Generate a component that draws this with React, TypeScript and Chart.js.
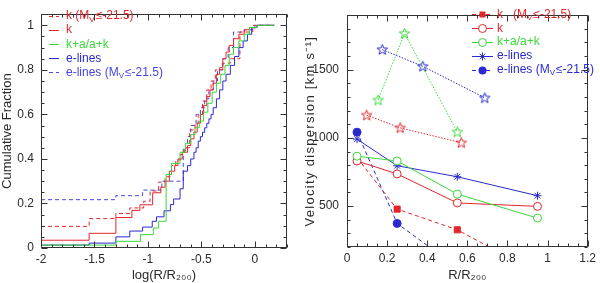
import React, { useEffect, useRef } from 'react';
import { Chart, registerables } from 'chart.js';
Chart.register(...registerables);

const FONT = "'Liberation Sans', Arial, sans-serif";
const RED = '#e3262c';
const GREEN = '#3ad83a';
const BLUE = '#2a2ad0';
const BLUE_D = '#4646e6';
const INK = '#2a2a2a';

// ---------- Left panel: cumulative fractions (level starts at x) ----------
const kBrightX = [-2, -1.55, -1.3, -1.17, -1.04, -0.98, -0.9, -0.84, -0.78, -0.74, -0.7, -0.66, -0.61, -0.56, -0.53, -0.49, -0.45, -0.41, -0.37, -0.3, -0.23, -0.14, -0.02, 0.18];
const kBrightY = [0.097, 0.132, 0.155, 0.18, 0.21, 0.256, 0.296, 0.32, 0.37, 0.395, 0.42, 0.45, 0.53, 0.56, 0.6, 0.66, 0.71, 0.75, 0.8, 0.83, 0.85, 0.97, 1, 1];

const kAllX = [-2, -1.55, -1.3, -1.15, -1.075, -0.956, -0.88, -0.84, -0.8, -0.75, -0.72, -0.68, -0.63, -0.6, -0.57, -0.54, -0.51, -0.48, -0.45, -0.42, -0.39, -0.36, -0.33, -0.3, -0.27, -0.24, -0.2, -0.15, -0.1, -0.05, 0.02, 0.18];
const kAllY = [0.035, 0.066, 0.137, 0.169, 0.194, 0.248, 0.273, 0.3, 0.345, 0.37, 0.4, 0.43, 0.46, 0.49, 0.52, 0.56, 0.6, 0.64, 0.68, 0.71, 0.74, 0.78, 0.81, 0.85, 0.88, 0.91, 0.94, 0.96, 0.98, 0.99, 1, 1];

const kaX = [-2, -1.3, -1.07, -0.95, -0.9, -0.83, -0.78, -0.7, -0.65, -0.6, -0.56, -0.52, -0.48, -0.44, -0.4, -0.36, -0.32, -0.28, -0.24, -0.2, -0.15, -0.1, -0.05, 0.02, 0.18];
const kaY = [0.013, 0.03, 0.06, 0.09, 0.12, 0.33, 0.38, 0.43, 0.47, 0.51, 0.54, 0.57, 0.61, 0.65, 0.7, 0.74, 0.78, 0.82, 0.87, 0.9, 0.93, 0.96, 0.99, 1, 1];

const eAllX = [-2, -1.55, -1.3, -1.17, -1.05, -0.96, -0.92, -0.85, -0.79, -0.76, -0.7, -0.67, -0.63, -0.6, -0.57, -0.55, -0.53, -0.51, -0.49, -0.47, -0.45, -0.43, -0.41, -0.39, -0.36, -0.33, -0.3, -0.27, -0.23, -0.19, -0.15, -0.11, -0.07, -0.03, 0.02, 0.18];
const eAllY = [0.013, 0.022, 0.05, 0.076, 0.094, 0.12, 0.14, 0.167, 0.195, 0.22, 0.266, 0.345, 0.37, 0.4, 0.43, 0.45, 0.48, 0.5, 0.52, 0.54, 0.56, 0.58, 0.6, 0.63, 0.67, 0.71, 0.75, 0.78, 0.82, 0.86, 0.9, 0.93, 0.96, 0.99, 1, 1];

const eBrightX = [-2, -1.3, -1.05, -0.87, -0.67, -0.63, -0.6, -0.55, -0.51, -0.47, -0.43, -0.39, -0.35, -0.3, -0.25, -0.2, -0.1, 0, 0.18];
const eBrightY = [0.217, 0.235, 0.26, 0.3, 0.45, 0.5, 0.55, 0.6, 0.63, 0.67, 0.71, 0.75, 0.8, 0.85, 0.9, 0.97, 0.98, 1, 1];

const leftXTicks = [-2, -1.5, -1, -0.5, 0];
const leftYTicks = [0, 0.2, 0.4, 0.6, 0.8, 1];

// ---------- Right panel: velocity dispersion ----------
const binR = [0.05, 0.25, 0.55, 0.95];
const kBrightSigma = [855, 478, 326, 10];
const kSigma = [831, 736, 523, 498];
const kaSigma = [866, 831, 588, 412];
const eSigma = [991, 796, 715, 576];
const eBrightR = [0.05, 0.25, 0.55];
const eBrightSigma = [1042, 373, 50];

const kStarR = [0.098, 0.265, 0.57];
const kStarSigma = [1167, 1074, 965];
const kaStarR = [0.155, 0.287, 0.55];
const kaStarSigma = [1278, 1766, 1044];
const eStarR = [0.176, 0.378, 0.687];
const eStarSigma = [1648, 1525, 1294];

const rightXTicks = [0, 0.2, 0.4, 0.6, 0.8, 1, 1.2];
const rightYTicks = [500, 1000, 1500];

const leftLegend = [
  { label: 'k (M_{V}≤-21.5)', color: RED, dash: [4, 3], marker: '' },
  { label: 'k', color: RED, dash: [], marker: '' },
  { label: 'k+a/a+k', color: GREEN, dash: [], marker: '' },
  { label: 'e-lines', color: BLUE, dash: [], marker: '' },
  { label: 'e-lines (M_{V}≤-21.5)', color: BLUE_D, dash: [4, 3], marker: '' },
];
const rightLegend = [
  { label: 'k   (M_{V}≤-21.5)', color: RED, dash: [4, 3], marker: 'square' },
  { label: 'k', color: RED, dash: [], marker: 'circle' },
  { label: 'k+a/a+k', color: GREEN, dash: [], marker: 'circle' },
  { label: 'e-lines', color: BLUE, dash: [], marker: 'asterisk' },
  { label: 'e-lines (M_{V}≤-21.5)', color: BLUE, dash: [4, 3], marker: 'dot' },
];

function zip(xs: number[], ys: number[]) {
  return xs.map((x, i) => ({ x, y: ys[i] }));
}

function makeStar(color: string): HTMLCanvasElement {
  const c = document.createElement('canvas');
  c.width = 13; c.height = 13;
  const g = c.getContext('2d')!;
  g.strokeStyle = color; g.lineWidth = 1;
  g.beginPath();
  for (let i = 0; i < 10; i++) {
    const r = i % 2 === 0 ? 5.5 : 2.3;
    const a = -Math.PI / 2 + (i * Math.PI) / 5;
    const px = 6.5 + r * Math.cos(a), py = 6.8 + r * Math.sin(a);
    if (i === 0) g.moveTo(px, py); else g.lineTo(px, py);
  }
  g.closePath(); g.stroke();
  return c;
}

function drawMarker(ctx: CanvasRenderingContext2D, kind: string, x: number, y: number, color: string) {
  ctx.save();
  ctx.setLineDash([]);
  ctx.strokeStyle = color; ctx.fillStyle = color; ctx.lineWidth = 1;
  if (kind === 'square') ctx.fillRect(x - 3, y - 3, 6, 6);
  else if (kind === 'dot') { ctx.beginPath(); ctx.arc(x, y, 4, 0, Math.PI * 2); ctx.fill(); }
  else if (kind === 'circle') { ctx.beginPath(); ctx.arc(x, y, 4, 0, Math.PI * 2); ctx.fillStyle = '#fff'; ctx.fill(); ctx.stroke(); }
  else if (kind === 'asterisk') {
    ctx.beginPath();
    for (let k = 0; k < 4; k++) {
      const a = (k * Math.PI) / 4;
      ctx.moveTo(x - 4 * Math.cos(a), y - 4 * Math.sin(a));
      ctx.lineTo(x + 4 * Math.cos(a), y + 4 * Math.sin(a));
    }
    ctx.stroke();
  }
  ctx.restore();
}

function drawRich(ctx: CanvasRenderingContext2D, text: string, x: number, y: number, size: number, color: string) {
  const parts = text.split(/(_\{[^}]*\})/);
  let cx = x;
  ctx.fillStyle = color; ctx.textBaseline = 'middle'; ctx.textAlign = 'left';
  for (const p of parts) {
    if (!p) continue;
    if (p.startsWith('_{')) {
      const t = p.slice(2, -1);
      ctx.font = `${Math.round(size * 0.7)}px ${FONT}`;
      ctx.fillText(t, cx, y + size * 0.28);
      cx += ctx.measureText(t).width + 1;
    } else {
      ctx.font = `${size}px ${FONT}`;
      ctx.fillText(p, cx, y);
      cx += ctx.measureText(p).width;
    }
  }
}

const frameTicks = {
  id: 'frameTicks',
  afterDatasetsDraw(chart: any, _a: any, opts: any) {
    const { ctx, chartArea: a } = chart;
    const xs = chart.scales.x, ys = chart.scales.y;
    ctx.save();
    ctx.setLineDash([]);
    ctx.strokeStyle = opts.color; ctx.lineWidth = 1;
    const L = Math.round(a.left) + 0.5, R = Math.round(a.right) - 0.5;
    const T = Math.round(a.top) + 0.5, B = Math.round(a.bottom) - 0.5;
    ctx.strokeRect(L, T, R - L, B - T);
    ctx.beginPath();
    const isMajor = (v: number, arr: number[]) => arr.some((m) => Math.abs(m - v) < 1e-6);
    const n0 = Math.ceil(xs.min / opts.xMinor - 1e-6), n1 = Math.floor(xs.max / opts.xMinor + 1e-6);
    for (let n = n0; n <= n1; n++) {
      const v = n * opts.xMinor;
      const len = isMajor(v, opts.xMajor) ? 6 : 3;
      const px = Math.round(xs.getPixelForValue(v)) + 0.5;
      ctx.moveTo(px, B); ctx.lineTo(px, B - len);
      ctx.moveTo(px, T); ctx.lineTo(px, T + len);
    }
    const m0 = Math.ceil(ys.min / opts.yMinor - 1e-6), m1 = Math.floor(ys.max / opts.yMinor + 1e-6);
    for (let n = m0; n <= m1; n++) {
      const v = n * opts.yMinor;
      const len = isMajor(v, opts.yMajor) ? 6 : 3;
      const py = Math.round(ys.getPixelForValue(v)) + 0.5;
      ctx.moveTo(L, py); ctx.lineTo(L + len, py);
      ctx.moveTo(R, py); ctx.lineTo(R - len, py);
    }
    ctx.stroke();
    ctx.restore();
  },
};

const panelLegend = {
  id: 'panelLegend',
  afterDraw(chart: any, _a: any, opts: any) {
    const { ctx } = chart;
    ctx.save();
    opts.items.forEach((it: any, i: number) => {
      const y = opts.y0 + i * opts.dy;
      ctx.strokeStyle = it.color; ctx.lineWidth = 1;
      ctx.setLineDash(it.dash);
      ctx.beginPath();
      ctx.moveTo(opts.x0, Math.round(y) + 0.5); ctx.lineTo(opts.x1, Math.round(y) + 0.5);
      ctx.stroke();
      ctx.setLineDash([]);
      if (it.marker) drawMarker(ctx, it.marker, (opts.x0 + opts.x1) / 2, Math.round(y) + 0.5, it.color);
      drawRich(ctx, it.label, opts.tx, y, opts.size, it.color);
    });
    if (opts.yTitle) {
      const a = chart.chartArea;
      ctx.translate(opts.yTitle.x, (a.top + a.bottom) / 2);
      ctx.rotate(-Math.PI / 2);
      ctx.font = `${opts.yTitle.size}px ${FONT}`;
      (ctx as any).letterSpacing = opts.yTitle.spacing;
      ctx.fillStyle = INK; ctx.textAlign = 'center'; ctx.textBaseline = 'middle';
      ctx.fillText(opts.yTitle.text, 0, 0);
    }
    ctx.restore();
  },
};

const fmt = (v: any) => String(+Number(v).toFixed(2));

function axis(min: number, max: number, ticks: number[], fitSize: number, isX: boolean, title: string, tickPad: number, titlePad: any, tickSize: number, titleSize: number, showTitle = true) {
  return {
    type: 'linear',
    min, max,
    afterBuildTicks: (s: any) => { s.ticks = ticks.map((v) => ({ value: v })); },
    afterFit: (s: any) => { if (isX) s.height = fitSize; else s.width = fitSize; },
    grid: { display: false, drawTicks: false },
    border: { display: false },
    ticks: { font: { family: FONT, size: tickSize }, color: INK, padding: tickPad, maxRotation: 0, autoSkip: false, callback: fmt },
    title: { display: showTitle, text: title, font: { family: FONT, size: titleSize }, color: INK, padding: titlePad },
  };
}

function LeftChart() {
  const ref = useRef<HTMLCanvasElement>(null);
  useEffect(() => {
    const line = (xs: number[], ys: number[], color: string, dash: number[]) => ({
      data: zip(xs, ys), borderColor: color, borderDash: dash, borderWidth: 1,
      stepped: 'before', pointRadius: 0, fill: false,
    });
    const chart = new Chart(ref.current!, {
      type: 'line',
      data: {
        datasets: [
          line(kaX, kaY, GREEN, []),
          line(eAllX, eAllY, BLUE, []),
          line(kAllX, kAllY, RED, []),
          line(kBrightX, kBrightY, RED, [4, 3]),
          line(eBrightX, eBrightY, BLUE_D, [4, 3]),
        ] as any,
      },
      options: {
        animation: false, responsive: false, devicePixelRatio: 1,
        layout: { padding: { left: 0, top: 2, right: 13, bottom: 0 } },
        plugins: {
          legend: { display: false }, tooltip: { enabled: false },
          frameTicks: { color: '#333', xMinor: 0.1, yMinor: 0.05, xMajor: leftXTicks, yMajor: leftYTicks },
          panelLegend: { items: leftLegend, x0: 49, x1: 59, tx: 66, y0: 16, dy: 14.1, size: 12 },
        } as any,
        scales: {
          x: axis(-2, 0.3, leftXTicks, 35, true, 'log(R/R₂₀₀)', 4, { top: 0, bottom: 0 }, 12, 13),
          y: axis(0, 1.05, leftYTicks, 41, false, 'Cumulative Fraction', 7, { top: 0, bottom: 0 }, 12, 13),
        } as any,
      },
      plugins: [frameTicks, panelLegend],
    });
    return () => chart.destroy();
  }, []);
  return <canvas ref={ref} width={300} height={283} style={{ display: 'block', width: 300, height: 283 }} />;
}

function RightChart() {
  const ref = useRef<HTMLCanvasElement>(null);
  useEffect(() => {
    const series = (xs: number[], ys: number[], color: string, dash: number[], style: any, radius: number, bg: string) => ({
      data: zip(xs, ys), borderColor: color, borderDash: dash, borderWidth: 1, fill: false,
      pointStyle: style, pointRadius: radius, pointBorderColor: color, pointBackgroundColor: bg, pointBorderWidth: 1,
    });
    const chart = new Chart(ref.current!, {
      type: 'line',
      data: {
        datasets: [
          series(kStarR, kStarSigma, RED, [1.5, 1.5], makeStar(RED), 6, RED),
          series(kaStarR, kaStarSigma, GREEN, [1.5, 1.5], makeStar(GREEN), 6, GREEN),
          series(eStarR, eStarSigma, BLUE, [1.5, 1.5], makeStar(BLUE), 6, BLUE),
          series(binR, kaSigma, GREEN, [], 'circle', 4, '#fff'),
          series(binR, kSigma, RED, [], 'circle', 4, '#fff'),
          series(binR, eSigma, BLUE, [], 'star', 4, BLUE),
          series(binR, kBrightSigma, RED, [4, 3], 'rect', 4.3, RED),
          series(eBrightR, eBrightSigma, BLUE, [4, 3], 'circle', 4, BLUE),
        ] as any,
      },
      options: {
        animation: false, responsive: false, devicePixelRatio: 1,
        layout: { padding: { left: 0, top: 2, right: 8, bottom: 0 } },
        plugins: {
          legend: { display: false }, tooltip: { enabled: false },
          frameTicks: { color: '#333', xMinor: 0.05, yMinor: 100, xMajor: rightXTicks, yMajor: rightYTicks },
          panelLegend: {
            items: rightLegend, x0: 172, x1: 193, tx: 197, y0: 14.3, dy: 13.9, size: 12,
            yTitle: { text: 'Velocity dispersion [km s⁻¹]', x: 10, size: 13, spacing: '1.3px' },
          },
        } as any,
        scales: {
          x: axis(0, 1.2, rightXTicks, 36, true, 'R/R₂₀₀', 4, { top: 0, bottom: 0 }, 12, 13),
          y: axis(200, 1900, rightYTicks, 47, false, 'Velocity dispersion [km s⁻¹]', 8, { top: 2, bottom: 0 }, 12, 13, false),
        } as any,
      },
      plugins: [frameTicks, panelLegend],
    });
    return () => chart.destroy();
  }, []);
  return <canvas ref={ref} width={300} height={283} style={{ display: 'block', width: 300, height: 283 }} />;
}

export default function App() {
  return (
    <div style={{ position: 'absolute', left: 0, top: 0, width: 600, height: 283, display: 'flex', background: '#fff' }}>
      <LeftChart />
      <RightChart />
    </div>
  );
}
